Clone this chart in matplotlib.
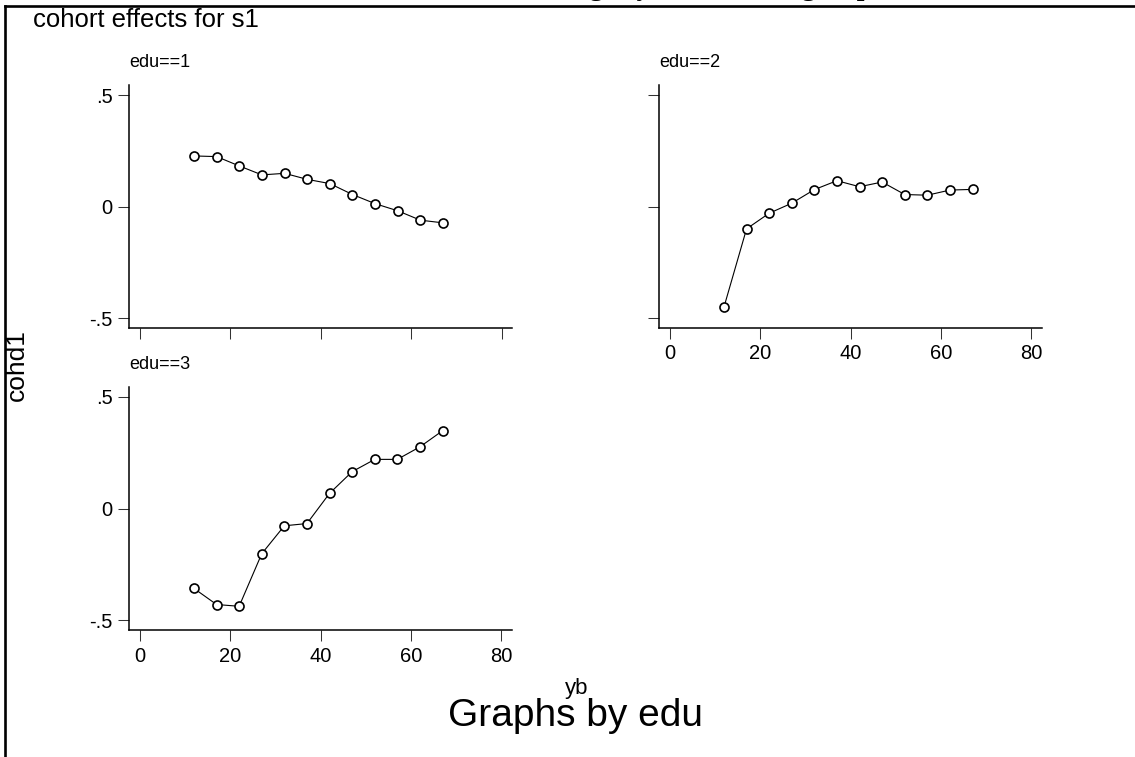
import matplotlib
matplotlib.use("Agg")
import matplotlib.pyplot as plt
from matplotlib.lines import Line2D

# year-of-birth cohorts and estimated cohort effects (cohd1) per education group
yb = [12, 17, 22, 27, 32, 37, 42, 47, 52, 57, 62, 67]
cohd1_edu1 = [0.227, 0.224, 0.182, 0.142, 0.149, 0.122, 0.103, 0.054, 0.013, -0.019, -0.061, -0.073]
cohd1_edu2 = [-0.451, -0.100, -0.030, 0.015, 0.076, 0.116, 0.089, 0.110, 0.054, 0.051, 0.074, 0.077]
cohd1_edu3 = [-0.357, -0.429, -0.437, -0.202, -0.077, -0.067, 0.068, 0.165, 0.220, 0.220, 0.276, 0.348]

panel_titles = ["edu==1", "edu==2", "edu==3"]
x_ticks = [0, 20, 40, 60, 80]
y_ticks = [-0.5, 0, 0.5]
y_ticklabels = ["-.5", "0", ".5"]

W, H = 1135, 757
plt.rcParams['font.family'] = ['Liberation Sans', 'DejaVu Sans']

fig = plt.figure(figsize=(W / 100, H / 100), dpi=100)
fig.patch.set_facecolor('white')


def box(left, top, right, bottom):
    # pixel box -> figure fraction
    return [left / W, 1 - bottom / H, (right - left) / W, (bottom - top) / H]


def panel(rect, y, title, xlabels=True, ylabels=True):
    ax = fig.add_axes(box(*rect))
    ax.plot(yb, y, color='black', lw=0.8, marker='o', ms=6.5,
            mfc='white', mec='black', mew=1.2)
    ax.set_xlim(-2.3, 82.3)
    ax.set_ylim(-0.543, 0.545)
    ax.spines['top'].set_visible(False)
    ax.spines['right'].set_visible(False)
    for s in ['left', 'bottom']:
        ax.spines[s].set_linewidth(1.1)
    ax.set_xticks(x_ticks)
    ax.set_yticks(y_ticks)
    ax.set_yticklabels(y_ticklabels if ylabels else [])
    if not xlabels:
        ax.set_xticklabels([])
    ax.tick_params(direction='out', length=8, width=0.75, color='#333333',
                   labelsize=14.5, pad=4)
    ax.set_title(title, loc='left', fontsize=13, pad=13)
    return ax


panel((129.3, 85, 512.3, 327.7), cohd1_edu1, panel_titles[0], xlabels=False)
panel((659.3, 85, 1041.7, 327.7), cohd1_edu2, panel_titles[1], ylabels=False)
panel((129.3, 386.7, 511.7, 630), cohd1_edu3, panel_titles[2])

# frame around the plot region
fig.add_artist(Line2D([4.5 / W, 1.0], [1 - 6 / H, 1 - 6 / H], color='black', lw=1.9,
                      transform=fig.transFigure))
fig.add_artist(Line2D([4.5 / W, 4.5 / W], [1 - 6 / H, 0.0], color='black', lw=1.9,
                      transform=fig.transFigure))

# main title sits above the frame
fig.text(587 / W, 1 + 5 / H, "Cohort effects on earnings by educational group",
         ha='center', va='baseline', fontsize=20, fontweight='bold',
         family=['Liberation Serif', 'DejaVu Serif'])

fig.text(33 / W, 1 - 20 / H, "cohort effects for s1", ha='left', va='center', fontsize=18.5)
fig.text(17 / W, 1 - 365 / H, "cohd1", rotation=90, ha='center', va='center', fontsize=19)
fig.text(577 / W, 1 - 694 / H, "yb", ha='center', va='baseline', fontsize=16)
fig.text(575 / W, 1 - 726 / H, "Graphs by edu", ha='center', va='baseline', fontsize=28)

fig.savefig("out.png", dpi=100, facecolor='white')
